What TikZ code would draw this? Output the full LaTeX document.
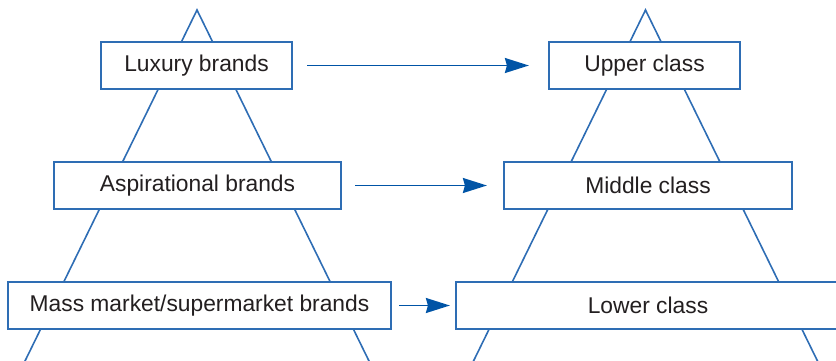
\documentclass[tikz,border=0pt]{standalone}
\usepackage{fontspec}
\setmainfont{Liberation Sans}
\usetikzlibrary{arrows.meta}
\definecolor{lineblue}{HTML}{2E6DB4}
\definecolor{arrowblue}{HTML}{0054A6}
\definecolor{txt}{HTML}{231F20}
\tikzset{
  x=0.5pt, y=-0.5pt,
  box/.style={draw=lineblue, line width=1.1pt, fill=white, text=txt,
    minimum height=23.5pt, inner sep=0pt,
    font=\fontsize{11.4}{13}\selectfont},
  tri/.style={draw=lineblue, line width=0.8pt},
  arr/.style={draw=arrowblue, line width=0.9pt,
    -{Stealth[length=12pt, width=7.5pt, inset=1pt]}},
}
\begin{document}
\begin{tikzpicture}
\useasboundingbox (0,0) rectangle (836,360);
\clip (0,0) rectangle (836,360);
% pyramids
\coordinate (la) at (197,10);
\coordinate (ll) at (15.7,380);
\coordinate (lr) at (378.3,380);
\coordinate (ra) at (645.5,10);
\coordinate (rl) at (464.2,380);
\coordinate (rr) at (826.8,380);
\draw[tri] (ll) -- (la) -- (lr);
\draw[tri] (rl) -- (ra) -- (rr);
% boxes
\node[box, minimum width=95.5pt] (lux) at (196.5,65.5) {Luxury brands};
\node[box, minimum width=143.5pt] (asp) at (197.5,185.5) {Aspirational brands};
\node[box, minimum width=191.5pt] (mass) at (199.5,305.5) {Mass market/supermarket brands};
\node[box, minimum width=95.5pt] (upper) at (644.5,65.5) {Upper class};
\node[box, minimum width=144pt] (middle) at (648,185.5) {Middle class};
\node[box, minimum width=192pt] (lower) at (648,305.5) {Lower class};
% arrows
\draw[arr, shorten <=7pt, shorten >=9.5pt] (lux) -- (upper);
\draw[arr, shorten <=6.5pt, shorten >=8pt] (asp) -- (middle);
\draw[arr, shorten <=3.5pt, shorten >=2.5pt] (mass) -- (lower);
\end{tikzpicture}
\end{document}
